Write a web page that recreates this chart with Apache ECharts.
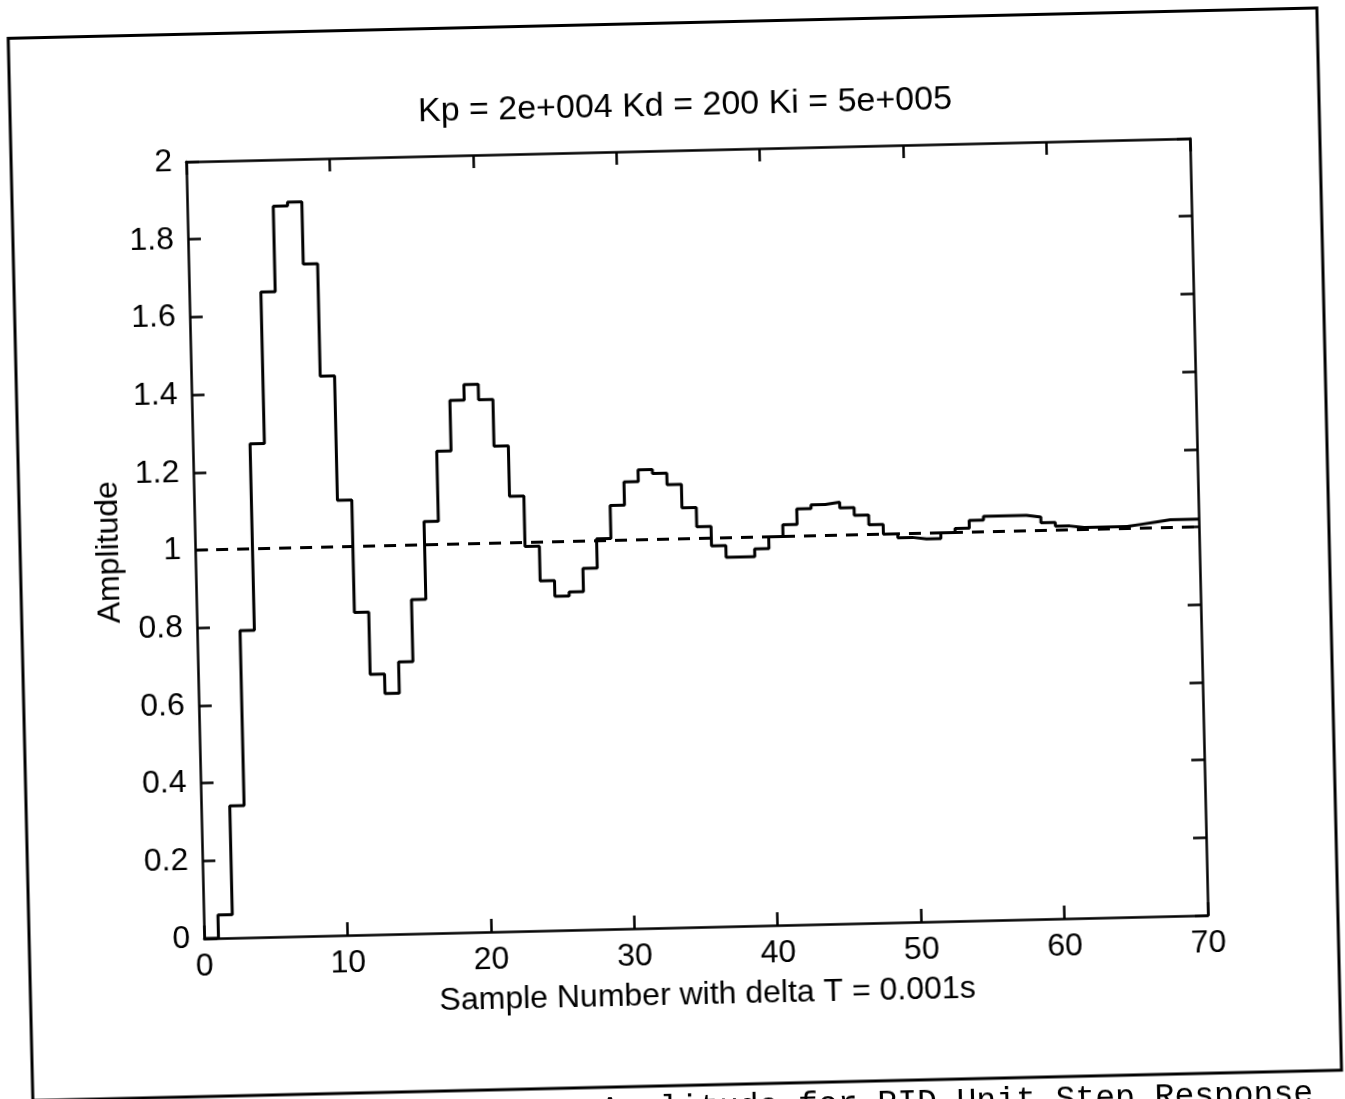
<!DOCTYPE html>
<html>
<head>
<meta charset="utf-8">
<script src="https://cdn.jsdelivr.net/npm/echarts@6/dist/echarts.min.js"></script>
<style>
  html, body { margin: 0; padding: 0; background: #fff; overflow: hidden; width: 1345px; height: 1099px; }
  #chart { position: absolute; left: -40px; top: -40px; width: 1425px; height: 1180px;
           transform: rotate(-1.33deg); transform-origin: 736.75px 578.5px; }
</style>
</head>
<body>
<div id="chart"></div>
<script>
// ---- data ----
const titleText = 'Kp = 2e+004 Kd = 200 Ki = 5e+005';
const xAxisName = 'Sample Number with delta T = 0.001s';
const yAxisName = 'Amplitude';
const captionText = 'Amplitude for PID Unit Step Response';
const xTicks = [0, 10, 20, 30, 40, 50, 60, 70];
const yTicks = [0, 0.2, 0.4, 0.6, 0.8, 1, 1.2, 1.4, 1.6, 1.8, 2];
// amplitude held over each sample n .. n+1 (n = 0 .. 69)
const amplitude = [
  0, 0.06, 0.34, 0.79, 1.27, 1.66, 1.88, 1.89, 1.73, 1.44,
  1.12, 0.83, 0.67, 0.62, 0.70, 0.86, 1.06, 1.24, 1.37, 1.41,
  1.37, 1.25, 1.12, 0.99, 0.90, 0.86, 0.87, 0.93, 1.005, 1.09,
  1.15, 1.18, 1.17, 1.14, 1.08, 1.03, 0.98, 0.95, 0.95, 0.97,
  1.00, 1.03, 1.07, 1.08, 1.085, 1.07, 1.05, 1.025, 1.00, 0.99,
  0.985, 0.985, 1.00, 1.01, 1.03, 1.04, 1.04, 1.04, 1.035, 1.02,
  1.01, 1.005, 1.005, 1.005, 1.005, 1.01, 1.015, 1.02, 1.02, 1.02
];
const referenceX = [0, 70];
const referenceY = [1, 1];

// ---- build ----
const stepData = amplitude.map((v, i) => [i, v]);
stepData.push([xTicks[xTicks.length - 1], amplitude[amplitude.length - 1]]);
const refData = referenceX.map((x, i) => [x, referenceY[i]]);

const O = 40; // container offset
const FONT = 'Liberation Sans, Arial, sans-serif';
const axisLineStyle = { color: '#000', width: 2.5 };
const tickCommon = { show: true, inside: true, length: 13, lineStyle: { color: '#000', width: 2.5 } };

const chart = echarts.init(document.getElementById('chart'), null, { renderer: 'canvas' });
chart.setOption({
  animation: false,
  backgroundColor: '#fff',
  title: {
    text: titleText,
    left: 695 + O,
    textAlign: 'center',
    top: 89 + O,
    padding: 0,
    textStyle: { fontFamily: FONT, fontSize: 34, fontWeight: 'normal', color: '#000' }
  },
  grid: { left: 195 + O, top: 150 + O, width: 1004, height: 777, containLabel: false },
  xAxis: [{
    type: 'value', min: 0, max: 70, interval: 10, position: 'bottom',
    name: xAxisName, nameLocation: 'middle', nameGap: 52,
    nameTextStyle: { fontFamily: FONT, fontSize: 32, color: '#000', verticalAlign: 'top' },
    axisLine: { show: true, onZero: false, lineStyle: axisLineStyle },
    axisTick: tickCommon,
    axisLabel: { fontFamily: FONT, fontSize: 32, color: '#000', margin: 12 },
    splitLine: { show: false }
  }, {
    type: 'value', min: 0, max: 70, interval: 10, position: 'top',
    axisLine: { show: true, onZero: false, lineStyle: axisLineStyle },
    axisTick: tickCommon,
    axisLabel: { show: false },
    splitLine: { show: false }
  }],
  yAxis: [{
    type: 'value', min: 0, max: 2, interval: 0.2, position: 'left',
    name: yAxisName, nameLocation: 'middle', nameGap: 66, nameRotate: 90,
    nameTextStyle: { fontFamily: FONT, fontSize: 32, color: '#000' },
    axisLine: { show: true, onZero: false, lineStyle: axisLineStyle },
    axisTick: tickCommon,
    axisLabel: { fontFamily: FONT, fontSize: 32, color: '#000', margin: 14 },
    splitLine: { show: false }
  }, {
    type: 'value', min: 0, max: 2, interval: 0.2, position: 'right',
    axisLine: { show: true, onZero: false, lineStyle: axisLineStyle },
    axisTick: tickCommon,
    axisLabel: { show: false },
    splitLine: { show: false }
  }],
  series: [{
    type: 'line', name: 'step', data: stepData, step: 'end',
    xAxisIndex: 0, yAxisIndex: 0,
    showSymbol: false, symbol: 'none',
    lineStyle: { color: '#000', width: 3 }, z: 3
  }, {
    type: 'line', name: 'reference', data: refData,
    xAxisIndex: 0, yAxisIndex: 0,
    showSymbol: false, symbol: 'none',
    lineStyle: { color: '#000', width: 3, type: [12, 9] }, z: 2
  }],
  graphic: [{
    type: 'rect',
    shape: { x: 20 + O, y: 22.5 + O, width: 1309, height: 1062.5 },
    style: { fill: 'none', stroke: '#000', lineWidth: 3 },
    silent: true
  }, {
    type: 'text',
    x: 1300 + O, y: 1092 + O,
    style: { text: captionText, fill: '#000', font: '33px "Liberation Mono", "Courier New", monospace',
             textAlign: 'right', textVerticalAlign: 'top' },
    silent: true
  }]
});
</script>
</body>
</html>
